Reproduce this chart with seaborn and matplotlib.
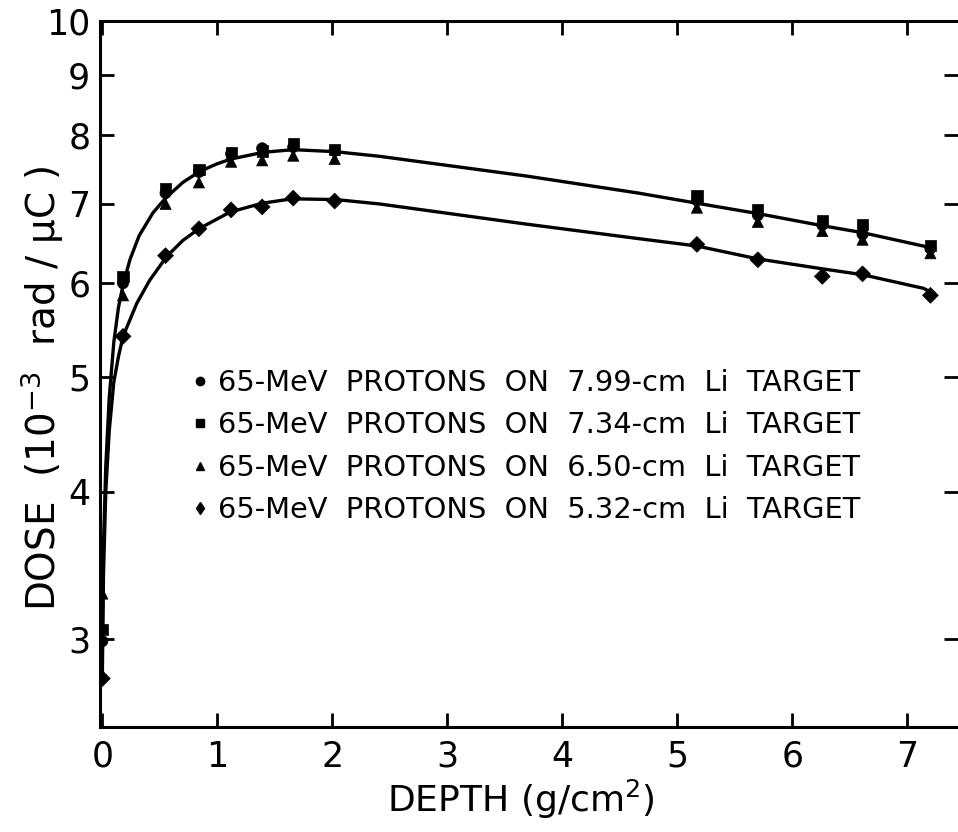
import matplotlib
matplotlib.use("Agg")
import matplotlib.pyplot as plt
from matplotlib.lines import Line2D
import seaborn as sns
import pandas as pd

# ---- data ----
depth = [0.0, 0.18, 0.55, 0.84, 1.12, 1.39, 1.66, 2.02, 5.17, 5.70, 6.26, 6.61, 7.20]
dose_799 = [2.99, 6.00, 7.15, 7.45, 7.72, 7.80, 7.82, 7.76, 7.05, 6.85, 6.72, 6.60, 6.42]
dose_734 = [3.06, 6.08, 7.21, 7.48, 7.74, 7.76, 7.87, 7.78, 7.11, 6.93, 6.78, 6.73, 6.46]
dose_650 = [3.28, 5.86, 7.00, 7.30, 7.60, 7.62, 7.69, 7.64, 6.95, 6.76, 6.64, 6.53, 6.36]
dose_532 = [2.78, 5.41, 6.33, 6.67, 6.92, 6.96, 7.08, 7.04, 6.47, 6.28, 6.08, 6.11, 5.86]

series_labels = [
    "65-MeV  PROTONS  ON  7.99-cm  Li  TARGET",
    "65-MeV  PROTONS  ON  7.34-cm  Li  TARGET",
    "65-MeV  PROTONS  ON  6.50-cm  Li  TARGET",
    "65-MeV  PROTONS  ON  5.32-cm  Li  TARGET",
]

# fitted curves drawn in the reference
upper_x = [0.0, 0.01, 0.03, 0.06, 0.10, 0.14, 0.18, 0.24, 0.32, 0.44, 0.55, 0.70, 0.85,
           1.00, 1.12, 1.40, 1.66, 2.02, 2.41, 3.69, 4.66, 5.17, 5.70, 6.26, 6.61, 7.20]
upper_y = [3.00, 3.60, 4.20, 4.80, 5.35, 5.72, 5.98, 6.28, 6.58, 6.88, 7.08, 7.30, 7.46,
           7.57, 7.64, 7.74, 7.78, 7.75, 7.68, 7.39, 7.15, 7.01, 6.87, 6.71, 6.62, 6.43]
lower_x = [0.0, 0.01, 0.03, 0.06, 0.10, 0.14, 0.18, 0.30, 0.41, 0.56, 0.70, 0.84, 1.11,
           1.39, 1.65, 2.03, 2.41, 3.69, 4.68, 5.17, 5.70, 6.26, 6.61, 7.14, 7.20]
lower_y = [2.78, 3.40, 4.00, 4.50, 4.95, 5.20, 5.41, 5.77, 6.03, 6.32, 6.52, 6.67, 6.89,
           7.01, 7.07, 7.06, 7.00, 6.73, 6.54, 6.45, 6.29, 6.17, 6.10, 5.94, 5.90]

x_ticks = [0, 1, 2, 3, 4, 5, 6, 7]
x_tick_labels = ["0", "1", "2", "3", "4", "5", "6", "7"]
y_ticks = [3, 4, 5, 6, 7, 8, 9, 10]
y_tick_labels = ["3", "4", "5", "6", "7", "8", "9", "10"]

# ---- build tables ----
rows = []
for lab, vals in zip(series_labels, [dose_799, dose_734, dose_650, dose_532]):
    for d, v in zip(depth, vals):
        rows.append({"depth": d, "dose": v, "series": lab})
pts = pd.DataFrame(rows)

curves = pd.concat([
    pd.DataFrame({"depth": upper_x, "dose": upper_y, "curve": "upper"}),
    pd.DataFrame({"depth": lower_x, "dose": lower_y, "curve": "lower"}),
])

sns.set_theme(style="white")
plt.rcParams["font.family"] = ["DejaVu Sans"]
plt.rcParams["mathtext.default"] = "regular"

fig = plt.figure(figsize=(9.58, 8.32), dpi=100)
ax = fig.add_axes([0.1044, 0.1262, 0.8956, 0.849])

sns.lineplot(data=curves, x="depth", y="dose", units="curve", estimator=None,
             sort=False, color="black", lw=2.4, ax=ax, legend=False)

markers = dict(zip(series_labels, ["o", "s", "^", "D"]))
sns.scatterplot(data=pts, x="depth", y="dose", style="series", markers=markers,
                color="black", s=65, edgecolor="black", linewidth=0.5,
                ax=ax, legend=False, zorder=3)

ax.set_yscale("log")
ax.set_xlim(-0.02, 7.44)
ax.set_ylim(2.53, 10)
ax.set_yticks(y_ticks)
ax.set_yticklabels(y_tick_labels)
ax.yaxis.set_minor_locator(matplotlib.ticker.NullLocator())
ax.set_xticks(x_ticks)
ax.set_xticklabels(x_tick_labels)

for side in ["left", "top", "bottom"]:
    ax.spines[side].set_color("black")
    ax.spines[side].set_linewidth(2.2)
ax.spines["right"].set_visible(False)

ax.tick_params(axis="both", which="major", direction="in", length=10, width=2,
               labelsize=25, colors="black", top=True, right=True,
               left=True, bottom=True)
ax.tick_params(axis="x", pad=9)
ax.tick_params(axis="y", pad=7)

ax.set_xlabel("DEPTH (g/cm$^2$)", fontsize=26, color="black")
ax.set_ylabel("DOSE  (10$^{-3}$  rad / $\\mu$C )", fontsize=28, color="black")
ax.xaxis.set_label_coords(0.49, -0.072)
ax.yaxis.set_label_coords(-0.04, 0.48)

handles = [Line2D([], [], ls="none", marker=m, color="black", markersize=6)
           for m in ["o", "s", "^", "d"]]
leg = ax.legend(handles, series_labels, loc="upper left",
                bbox_to_anchor=(0.107, 0.507), frameon=False, fontsize=20.8,
                handlelength=0.6, handletextpad=0.3, labelspacing=0.5,
                borderpad=0, borderaxespad=0)
for t in leg.get_texts():
    t.set_color("black")

fig.savefig("out.png", dpi=100, facecolor="white")
